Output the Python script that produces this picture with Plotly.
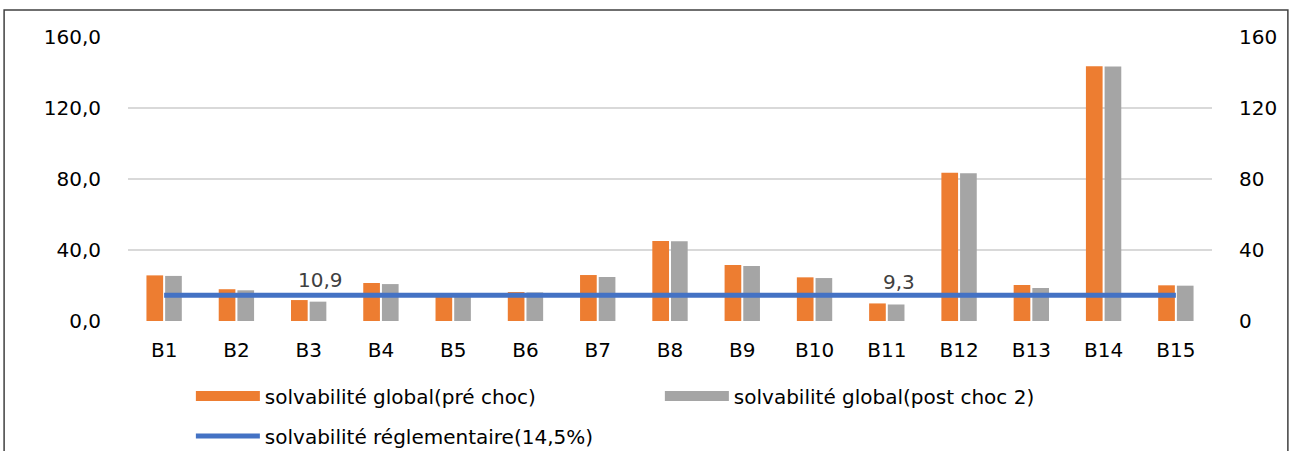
import plotly.graph_objects as go

categories = ["B1", "B2", "B3", "B4", "B5", "B6", "B7", "B8", "B9", "B10",
              "B11", "B12", "B13", "B14", "B15"]
pre_choc = [25.7, 17.9, 11.8, 21.4, 15.2, 16.3, 25.9, 45.1, 31.5, 24.6,
            9.9, 83.5, 20.3, 143.5, 20.1]
post_choc2 = [25.4, 17.3, 10.9, 20.8, 14.9, 16.1, 24.8, 44.9, 31.0, 24.2,
              9.3, 83.2, 18.6, 143.4, 19.9]
reglementaire = [14.5] * len(categories)

name_pre = "solvabilité global(pré choc)"
name_post = "solvabilité global(post choc 2)"
name_reg = "solvabilité réglementaire(14,5%)"

ORANGE = "#ED7D31"
GRAY = "#A5A5A5"
BLUE = "#4472C4"
FONT = "DejaVu Sans"
TXT = 20

fig = go.Figure()
fig.add_trace(go.Bar(x=categories, y=pre_choc, name=name_pre,
                     marker=dict(color=ORANGE, line=dict(width=0)),
                     showlegend=False))
fig.add_trace(go.Bar(x=categories, y=post_choc2, name=name_post,
                     marker=dict(color=GRAY, line=dict(width=0)),
                     showlegend=False))
fig.add_trace(go.Scatter(x=categories, y=reglementaire, name=name_reg,
                         mode="lines", yaxis="y2",
                         line=dict(color=BLUE, width=5),
                         showlegend=True, legend="legend2"))
# legend swatches for the bar series (thick line samples)
fig.add_trace(go.Scatter(x=[None], y=[None], name=name_pre, mode="lines",
                         line=dict(color=ORANGE, width=12), legend="legend"))
fig.add_trace(go.Scatter(x=[None], y=[None], name=name_post, mode="lines",
                         line=dict(color=GRAY, width=12), legend="legend"))

# data labels for the values below the regulatory threshold
for c, v, r in zip(categories, post_choc2, reglementaire):
    if v < r:
        fig.add_annotation(x=c, y=v, xref="x", yref="y",
                           text=f"{v:.1f}".replace(".", ","),
                           showarrow=False, xshift=12, yshift=22,
                           font=dict(family=FONT, size=TXT, color="#404040"))

# outer chart border
fig.add_shape(type="rect", xref="paper", yref="paper",
              x0=-0.1143, x1=1.0700, y0=-0.48, y1=1.0952,
              line=dict(color="#404040", width=1.5), layer="above")

fig.update_layout(
    width=1296, height=451,
    margin=dict(l=128, r=84, t=37, b=130, autoexpand=False),
    paper_bgcolor="white", plot_bgcolor="white",
    separators=", ",
    barmode="group", bargap=0.483, bargroupgap=0.107,
    font=dict(family=FONT, size=TXT, color="#000000"),
    xaxis=dict(type="category", showgrid=False, showline=False, zeroline=False,
               ticks="", ticklabelstandoff=15,
               tickfont=dict(family=FONT, size=TXT, color="#000000")),
    yaxis=dict(range=[0, 160], dtick=40, tickformat=".1f",
               showgrid=True, gridcolor="#D9D9D9", gridwidth=1.5,
               zeroline=False, showline=False, ticks="",
               ticklabelstandoff=26,
               tickfont=dict(family=FONT, size=TXT, color="#000000")),
    yaxis2=dict(range=[0, 160], dtick=40, tickformat=".0f", overlaying="y",
                side="right", showgrid=False, zeroline=False, showline=False,
                ticks="", ticklabelstandoff=26,
                tickfont=dict(family=FONT, size=TXT, color="#000000")),
    legend=dict(orientation="h", x=0.058, y=-0.264, xanchor="left",
                yanchor="middle", itemwidth=64, entrywidth=390,
                bgcolor="rgba(0,0,0,0)",
                font=dict(family=FONT, size=TXT, color="#000000")),
    legend2=dict(orientation="h", x=0.058, y=-0.405, xanchor="left",
                 yanchor="middle", itemwidth=64,
                 bgcolor="rgba(0,0,0,0)",
                 font=dict(family=FONT, size=TXT, color="#000000")),
)

fig.write_html("out.html",
               config={"displayModeBar": False},
               post_script="document.body.style.margin='0px';"
                           "document.body.style.overflow='hidden';")
